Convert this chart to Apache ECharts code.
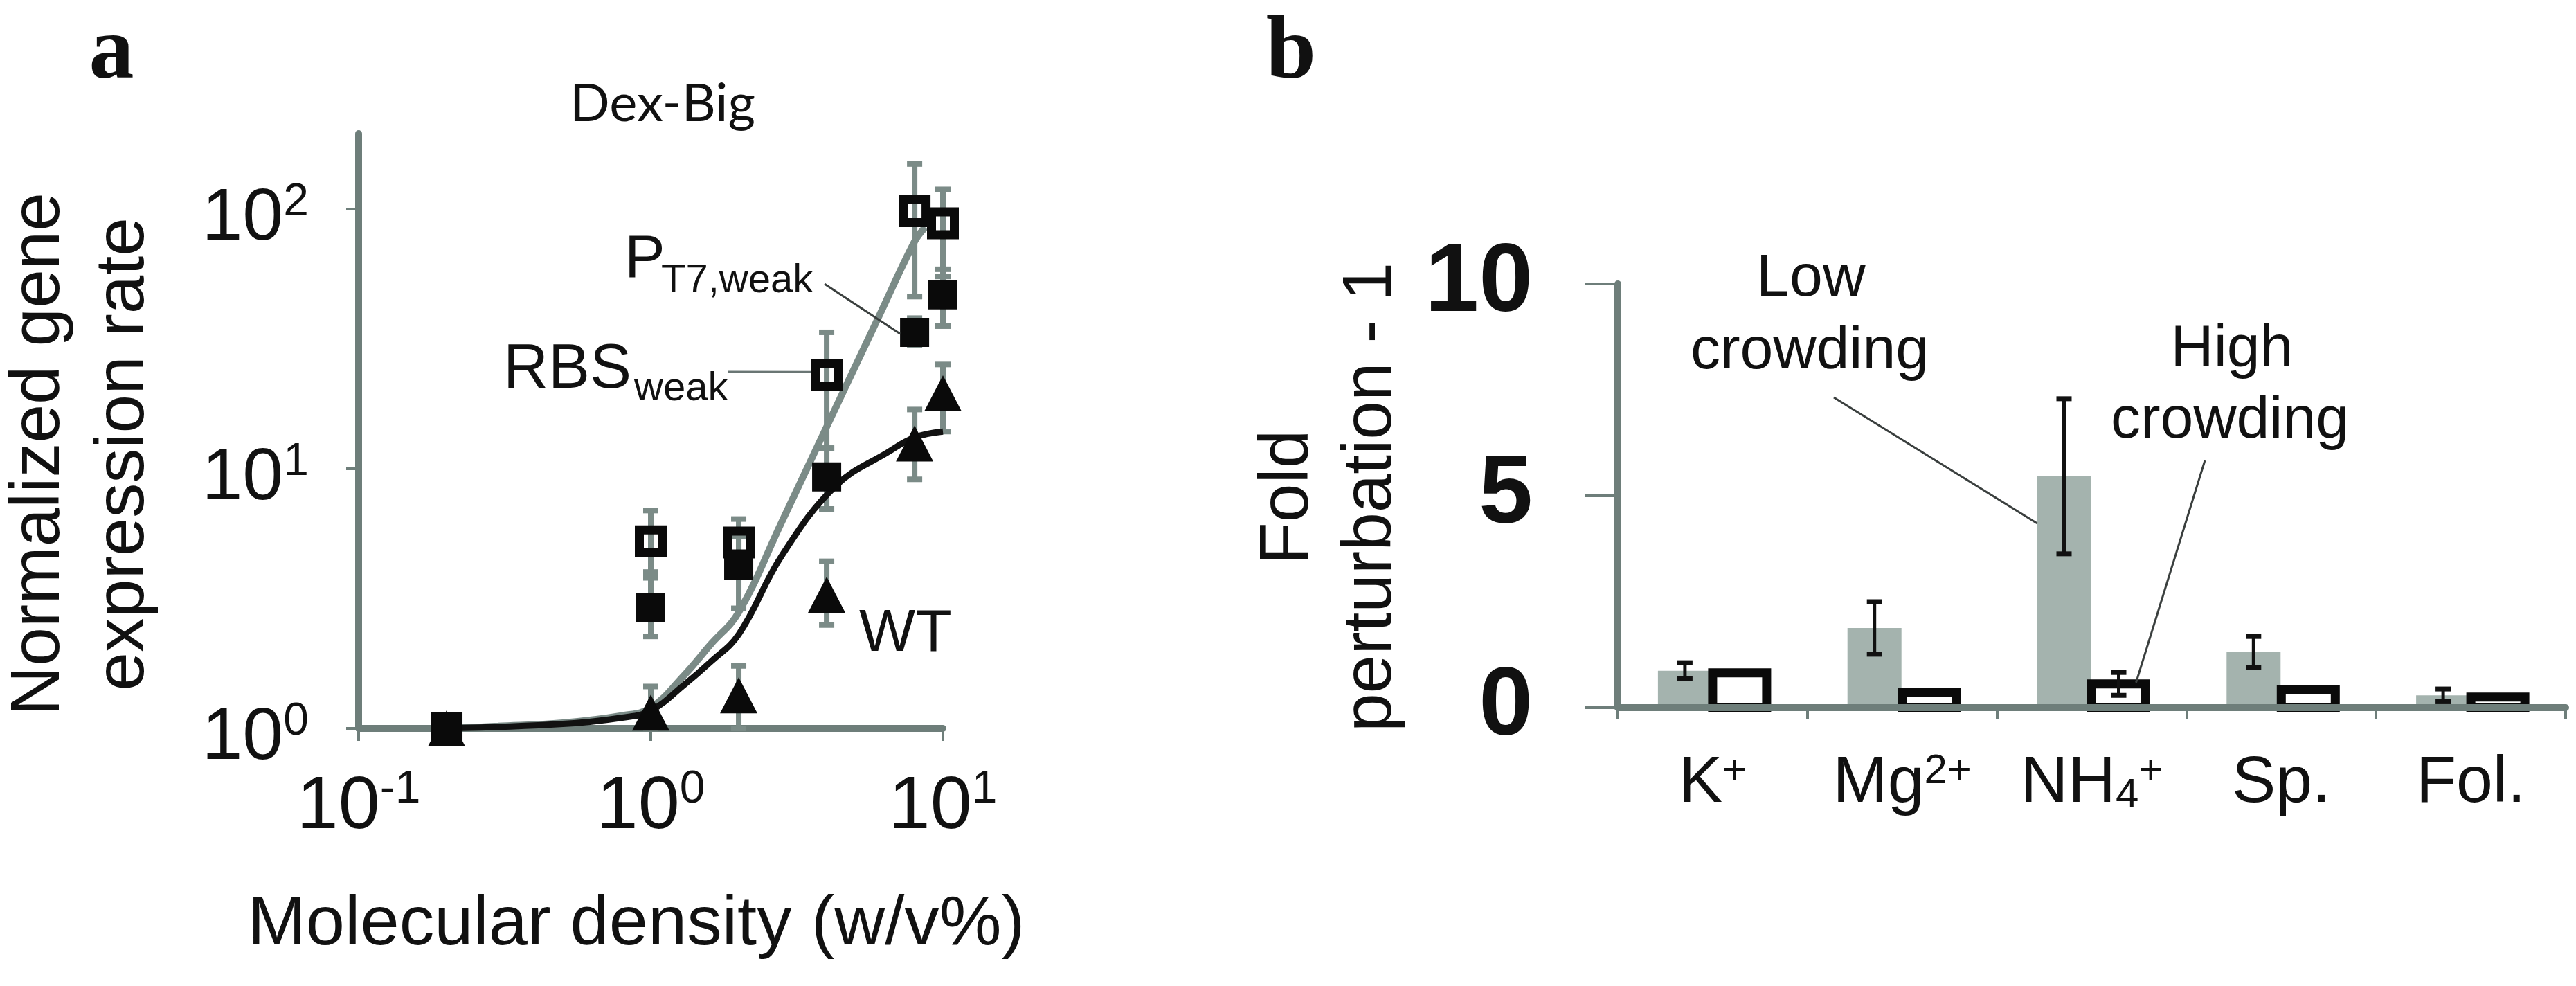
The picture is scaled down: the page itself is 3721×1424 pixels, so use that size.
<!DOCTYPE html>
<html>
<head>
<meta charset="utf-8">
<script src="https://cdn.jsdelivr.net/npm/echarts@6/dist/echarts.min.js"></script>
<style>
html,body{margin:0;padding:0;background:#ffffff;}
#chart{width:3721px;height:1424px;}
</style>
</head>
<body>
<div id="chart"></div>
<script>
// ---------- Panel a : Dex-Big ----------
const densityX = [0.2, 1, 2, 4, 8, 10];
const rbsWeak = [1, 5.25, 5.2, 23, 98, 88];
const rbsWeakLow = [1, 4.0, 4.2, 12, 46, 55];
const rbsWeakHigh = [1, 6.9, 6.4, 33.5, 149, 119];
const pt7Weak = [1, 2.93, 4.25, 9.3, 33.5, 46.7];
const pt7WeakLow = [1, 2.26, 2.9, 7.0, 30, 35.4];
const pt7WeakHigh = [1, 3.8, 5.5, 12, 38, 58.6];
const wtVals = [1, 1.15, 1.34, 3.27, 12.5, 19.5];
const wtLow = [1, 1.0, 1.0, 2.5, 9.1, 13.9];
const wtHigh = [1, 1.45, 1.74, 4.4, 16.9, 25.2];
const fitGrayX = [0.2, 0.3, 0.5, 0.8, 1, 1.3, 1.6, 2, 2.8, 4, 6, 8, 8.7];
const fitGrayY = [1.0, 1.02, 1.05, 1.12, 1.2, 1.6, 2.1, 2.8, 6.2, 14.5, 38, 75, 85];
const fitBlackX = [0.2, 0.5, 0.8, 1, 1.3, 1.6, 2, 2.8, 4.3, 6.5, 8, 10];
const fitBlackY = [1.0, 1.04, 1.1, 1.17, 1.47, 1.8, 2.3, 4.6, 8.6, 11.6, 13.2, 13.9];
const xTicksA = [0.1, 1, 10];
const yTicksA = [1, 10, 100];
const yMaxA = 195;

// ---------- Panel b ----------
const categories = ['K+', 'Mg2+', 'NH4+', 'Sp.', 'Fol.'];
const lowCrowding = [0.87, 1.88, 5.46, 1.31, 0.29];
const lowCrowdingErr = [0.19, 0.62, 1.83, 0.37, 0.15];
const highCrowding = [0.82, 0.35, 0.56, 0.42, 0.25];
const highCrowdingErr = [0, 0, 0.27, 0, 0];
const yTicksB = [0, 5, 10];

const catLabelRich = {
  'K+': '{n|K}{sup|+}',
  'Mg2+': '{n|Mg}{sup|2+}',
  'NH4+': '{n|NH}{sub|4}{sup|+}',
  'Sp.': '{n|Sp.}',
  'Fol.': '{n|Fol.}'
};

const SANS = 'Liberation Sans, Arial, sans-serif';
const SERIF = 'Liberation Serif, Times New Roman, serif';
const AXIS_GRAY = '#6e7e7a';
const CURVE_GRAY = '#7b8b87';
const BAR_GRAY = '#a4b3ae';
const BAR_W = 78;          // bar body width
const LOW_OFF = -40;       // centre offset of low-crowding bar inside its category
const HIGH_OFF = 39;       // centre offset of high-crowding bar inside its category
const OPEN_BORDER = 13;

function pairs(xs, ys) { return xs.map((x, i) => [x, ys[i]]); }
function errTriples(xs, lo, hi) { return xs.map((x, i) => [x, lo[i], hi[i]]); }

function errRenderA(params, api) {
  const x = api.value(0), lo = api.value(1), hi = api.value(2);
  if (hi <= lo) return null;
  const p1 = api.coord([x, lo]);
  const p2 = api.coord([x, hi]);
  const cw = 11;
  const st = { stroke: CURVE_GRAY, lineWidth: 8 };
  return {
    type: 'group',
    children: [
      { type: 'line', shape: { x1: p1[0], y1: p1[1], x2: p2[0], y2: p2[1] }, style: st },
      { type: 'line', shape: { x1: p1[0] - cw, y1: p1[1], x2: p1[0] + cw, y2: p1[1] }, style: st },
      { type: 'line', shape: { x1: p2[0] - cw, y1: p2[1], x2: p2[0] + cw, y2: p2[1] }, style: st }
    ]
  };
}

function makeBarRender(offset, style) {
  return function (params, api) {
    const i = api.value(0), v = api.value(1);
    const top = api.coord([i, v]);
    const base = api.coord([i, 0]);
    return {
      type: 'rect',
      shape: { x: top[0] + offset - BAR_W / 2, y: top[1], width: BAR_W, height: base[1] - top[1] },
      style: style
    };
  };
}

function makeErrRenderB(offset) {
  return function (params, api) {
    const idx = api.value(0), v = api.value(1), e = api.value(2);
    if (!(e > 0)) return null;
    const c1 = api.coord([idx, v - e]);
    const c2 = api.coord([idx, v + e]);
    const x = c1[0] + offset;
    const cw = 11;
    return {
      type: 'group',
      children: [
        { type: 'line', shape: { x1: x, y1: c1[1], x2: x, y2: c2[1] }, style: { stroke: '#111', lineWidth: 5 } },
        { type: 'line', shape: { x1: x - cw, y1: c1[1], x2: x + cw, y2: c1[1] }, style: { stroke: '#111', lineWidth: 7 } },
        { type: 'line', shape: { x1: x - cw, y1: c2[1], x2: x + cw, y2: c2[1] }, style: { stroke: '#111', lineWidth: 7 } }
      ]
    };
  };
}

function expLabel(v) {
  const e = Math.round(Math.log10(v));
  return '{b|10}{s|' + e + '}';
}

const chart = echarts.init(document.getElementById('chart'), null, { renderer: 'canvas' });

const option = {
  backgroundColor: '#ffffff',
  animation: false,
  grid: [
    { left: 518, top: 193, width: 844, height: 859 },
    { left: 2337, top: 410, width: 1369, height: 612 }
  ],
  xAxis: [
    {
      type: 'log', gridIndex: 0, min: 0.1, max: 10, logBase: 10,
      axisLine: { show: true, lineStyle: { color: AXIS_GRAY, width: 10 } },
      axisTick: { show: true, length: 18, inside: false, customValues: xTicksA, lineStyle: { color: AXIS_GRAY, width: 4 } },
      splitLine: { show: false },
      minorTick: { show: false },
      axisLabel: {
        customValues: xTicksA,
        margin: 56,
        formatter: expLabel,
        rich: {
          b: { fontFamily: SANS, fontSize: 108, lineHeight: 108, color: '#111', padding: [8, 0, 0, 0] },
          s: { fontFamily: SANS, fontSize: 66, lineHeight: 66, color: '#111', verticalAlign: 'top' }
        }
      }
    },
    {
      type: 'category', gridIndex: 1, data: categories,
      z: 5,
      axisLine: { show: true, lineStyle: { color: AXIS_GRAY, width: 10 } },
      axisTick: { show: true, length: 16, alignWithLabel: false, lineStyle: { color: AXIS_GRAY, width: 4 } },
      axisLabel: {
        margin: 62,
        interval: 0,
        formatter: v => catLabelRich[v] || v,
        rich: {
          n: { fontFamily: SANS, fontSize: 95, lineHeight: 95, color: '#111' },
          sup: { fontFamily: SANS, fontSize: 60, lineHeight: 60, color: '#111', verticalAlign: 'top' },
          sub: { fontFamily: SANS, fontSize: 60, lineHeight: 36, color: '#111', verticalAlign: 'bottom' }
        }
      }
    }
  ],
  yAxis: [
    {
      type: 'log', gridIndex: 0, min: 1, max: yMaxA, logBase: 10,
      axisLine: { show: true, lineStyle: { color: AXIS_GRAY, width: 10 } },
      axisTick: { show: true, length: 18, customValues: yTicksA, lineStyle: { color: AXIS_GRAY, width: 4 } },
      splitLine: { show: false },
      minorTick: { show: false },
      axisLabel: {
        customValues: yTicksA,
        margin: 72,
        padding: [22, 0, 0, 0],
        formatter: expLabel,
        rich: {
          b: { fontFamily: SANS, fontSize: 106, lineHeight: 106, color: '#111', padding: [8, 0, 0, 0] },
          s: { fontFamily: SANS, fontSize: 66, lineHeight: 66, color: '#111', verticalAlign: 'top' }
        }
      }
    },
    {
      type: 'value', gridIndex: 1, min: 0, max: 10, interval: 5,
      z: 5,
      axisLine: { show: true, lineStyle: { color: AXIS_GRAY, width: 10 } },
      axisTick: { show: true, length: 47, lineStyle: { color: AXIS_GRAY, width: 4 } },
      splitLine: { show: false },
      axisLabel: {
        margin: 123,
        fontFamily: SANS, fontSize: 140, fontWeight: 'bold', color: '#111'
      }
    }
  ],
  series: [
    // panel a error bars
    { type: 'custom', name: 'RBSweak err', xAxisIndex: 0, yAxisIndex: 0, z: 1, renderItem: errRenderA,
      data: errTriples(densityX, rbsWeakLow, rbsWeakHigh), encode: { x: 0, y: [1, 2] }, clip: false },
    { type: 'custom', name: 'PT7weak err', xAxisIndex: 0, yAxisIndex: 0, z: 1, renderItem: errRenderA,
      data: errTriples(densityX, pt7WeakLow, pt7WeakHigh), encode: { x: 0, y: [1, 2] }, clip: false },
    { type: 'custom', name: 'WT err', xAxisIndex: 0, yAxisIndex: 0, z: 1, renderItem: errRenderA,
      data: errTriples(densityX, wtLow, wtHigh), encode: { x: 0, y: [1, 2] }, clip: false },
    // panel a fits
    { type: 'line', name: 'fit gray', xAxisIndex: 0, yAxisIndex: 0, z: 2, data: pairs(fitGrayX, fitGrayY),
      smooth: 0.4, showSymbol: false, symbol: 'none', clip: false, lineStyle: { color: CURVE_GRAY, width: 10 } },
    { type: 'line', name: 'fit black', xAxisIndex: 0, yAxisIndex: 0, z: 2, data: pairs(fitBlackX, fitBlackY),
      smooth: 0.4, showSymbol: false, symbol: 'none', clip: false, lineStyle: { color: '#111', width: 9 } },
    // panel a markers
    { type: 'scatter', name: 'WT', xAxisIndex: 0, yAxisIndex: 0, z: 3, data: pairs(densityX, wtVals),
      symbol: 'triangle', symbolSize: [54, 52], clip: false, itemStyle: { color: '#0a0a0a', opacity: 1 } },
    { type: 'scatter', name: 'RBSweak', xAxisIndex: 0, yAxisIndex: 0, z: 4, data: pairs(densityX, rbsWeak),
      symbol: 'rect', symbolSize: 33, clip: false,
      itemStyle: { color: 'rgba(255,255,255,0)', borderColor: '#0a0a0a', borderWidth: 13, opacity: 1 } },
    { type: 'scatter', name: 'PT7weak', xAxisIndex: 0, yAxisIndex: 0, z: 5, data: pairs(densityX, pt7Weak),
      symbol: 'rect', symbolSize: 42, clip: false, itemStyle: { color: '#0a0a0a', opacity: 1 } },
    // panel b bars
    { type: 'custom', name: 'Low crowding', xAxisIndex: 1, yAxisIndex: 1, z: 2,
      renderItem: makeBarRender(LOW_OFF, { fill: BAR_GRAY }),
      data: lowCrowding.map((v, i) => [i, v]), encode: { x: 0, y: 1 } },
    { type: 'custom', name: 'High crowding', xAxisIndex: 1, yAxisIndex: 1, z: 3,
      renderItem: makeBarRender(HIGH_OFF, { fill: '#ffffff', stroke: '#0a0a0a', lineWidth: OPEN_BORDER }),
      data: highCrowding.map((v, i) => [i, v]), encode: { x: 0, y: 1 } },
    { type: 'custom', name: 'Low err', xAxisIndex: 1, yAxisIndex: 1, z: 6,
      renderItem: makeErrRenderB(LOW_OFF),
      data: lowCrowding.map((v, i) => [i, v, lowCrowdingErr[i]]), encode: { x: 0, y: 1 }, clip: false },
    { type: 'custom', name: 'High err', xAxisIndex: 1, yAxisIndex: 1, z: 6,
      renderItem: makeErrRenderB(HIGH_OFF),
      data: highCrowding.map((v, i) => [i, v, highCrowdingErr[i]]), encode: { x: 0, y: 1 }, clip: false }
  ]
};

chart.setOption(option);

// Annotations: leader lines end on data marks located through the axes
const pPT7 = chart.convertToPixel({ gridIndex: 0 }, [densityX[4], pt7Weak[4]]);
const pRBS = chart.convertToPixel({ gridIndex: 0 }, [densityX[3], rbsWeak[3]]);
const pLow = chart.convertToPixel({ gridIndex: 1 }, [2, 4.35]);
const pHigh = chart.convertToPixel({ gridIndex: 1 }, [2, highCrowding[2]]);

const leader = (x1, y1, x2, y2, color, w) => ({
  type: 'line', z: 20, silent: true,
  shape: { x1, y1, x2, y2 }, style: { stroke: color, lineWidth: w }
});
const txt = (text, x, y, size, opts) => Object.assign({
  type: 'text', z: 20, silent: true,
  x, y,
  style: Object.assign({
    text, fontFamily: SANS, fontSize: size, fill: '#111', align: 'center', verticalAlign: 'middle'
  }, (opts && opts.style) || {})
}, (opts && opts.el) || {});

chart.setOption({
  graphic: [
    // panel labels
    txt('a', 161, 78, 130, { style: { fontFamily: SERIF, fontWeight: 'bold' } }),
    txt('b', 1865, 78, 130, { style: { fontFamily: SERIF, fontWeight: 'bold' } }),
    // panel a titles
    txt('Dex-Big', 957, 150, 76, { style: { fontFamily: 'Lato, Open Sans, sans-serif' } }),
    txt('Normalized gene\nexpression rate', 118, 656, 100, { style: { lineHeight: 122 }, el: { rotation: Math.PI / 2 } }),
    txt('Molecular density (w/v%)', 919, 1336, 101),
    // panel a annotations
    txt('P', 902, 376, 88, { style: { align: 'left' } }),
    txt('T7,weak', 955, 406, 58, { style: { align: 'left' } }),
    txt('RBS', 727, 535, 90, { style: { align: 'left' } }),
    txt('weak', 916, 562, 58, { style: { align: 'left' } }),
    txt('WT', 1241, 916, 86, { style: { align: 'left' } }),
    leader(1191, 410, pPT7[0] - 21, pPT7[1] + 2, '#3a3f3e', 3),
    leader(1051, 537, pRBS[0] - 23, pRBS[1] - 4, '#6a7674', 3),
    // panel b titles
    txt('Fold\nperturbation - 1', 1921, 718, 100, { style: { lineHeight: 120 }, el: { rotation: Math.PI / 2 } }),
    txt('Low', 2616, 403, 86),
    txt('crowding', 2614, 508, 86),
    txt('High', 3224, 505, 86),
    txt('crowding', 3221, 608, 86),
    leader(2649, 574, pLow[0] + LOW_OFF - BAR_W / 2, pLow[1], '#3a3f3e', 3),
    leader(3185, 665, pHigh[0] + HIGH_OFF + 25, pHigh[1] - 2, '#3a3f3e', 3)
  ]
});
</script>
</body>
</html>
